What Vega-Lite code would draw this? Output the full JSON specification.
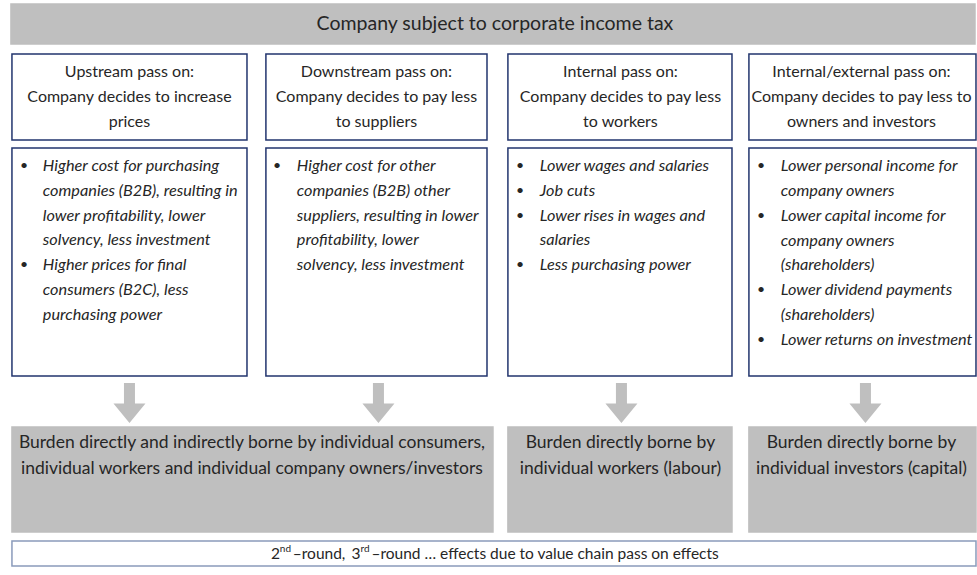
{
  "$schema": "https://vega.github.io/schema/vega-lite/v6.json",
  "width": 977,
  "height": 575,
  "autosize": {"type": "fit", "contains": "padding"},
  "padding": 0,
  "background": "#ffffff",
  "config": {"view": {"stroke": null}, "text": {"font": "Lato", "color": "#262626", "baseline": "middle"}},
  "datasets": {
    "boxes": [
      {"box": "banner", "kind": "gray", "x": 11, "x2": 979, "y": 4, "y2": 44},
      {"box": "h1", "kind": "outline", "x": 12, "x2": 248, "y": 54, "y2": 140},
      {"box": "h2", "kind": "outline", "x": 267, "x2": 489, "y": 54, "y2": 140},
      {"box": "h3", "kind": "outline", "x": 510, "x2": 735, "y": 54, "y2": 140},
      {"box": "h4", "kind": "outline", "x": 752, "x2": 980, "y": 54, "y2": 140},
      {"box": "b1", "kind": "outline", "x": 12, "x2": 248, "y": 148, "y2": 376},
      {"box": "b2", "kind": "outline", "x": 267, "x2": 489, "y": 148, "y2": 376},
      {"box": "b3", "kind": "outline", "x": 510, "x2": 735, "y": 148, "y2": 376},
      {"box": "b4", "kind": "outline", "x": 752, "x2": 980, "y": 148, "y2": 376},
      {"box": "g1", "kind": "gray", "x": 12, "x2": 495, "y": 427, "y2": 532},
      {"box": "g2", "kind": "gray", "x": 510, "x2": 735, "y": 427, "y2": 532},
      {"box": "g3", "kind": "gray", "x": 752, "x2": 980, "y": 427, "y2": 532},
      {"box": "foot", "kind": "light", "x": 12, "x2": 980, "y": 541, "y2": 566}
    ],
    "arrows": [
      {"col": 1, "x": 130, "y": 403},
      {"col": 2, "x": 380, "y": 403},
      {"col": 3, "x": 624, "y": 403},
      {"col": 4, "x": 869, "y": 403}
    ],
    "texts": [
      {"kind": "title", "text": "Company subject to corporate income tax", "x": 497, "y": 24},
      {"kind": "header", "text": "Upstream pass on:", "x": 130, "y": 72},
      {"kind": "header", "text": "Company decides to increase", "x": 130, "y": 97},
      {"kind": "header", "text": "prices", "x": 130, "y": 122},
      {"kind": "header", "text": "Downstream pass on:", "x": 378, "y": 72},
      {"kind": "header", "text": "Company decides to pay less", "x": 378, "y": 97},
      {"kind": "header", "text": "to suppliers", "x": 378, "y": 122},
      {"kind": "header", "text": "Internal pass on:", "x": 623, "y": 72},
      {"kind": "header", "text": "Company decides to pay less", "x": 623, "y": 97},
      {"kind": "header", "text": "to workers", "x": 623, "y": 122},
      {"kind": "header", "text": "Internal/external pass on:", "x": 865, "y": 72},
      {"kind": "header", "text": "Company decides to pay less to", "x": 865, "y": 97},
      {"kind": "header", "text": "owners and investors", "x": 865, "y": 122},
      {"kind": "bullet", "text": "•", "x": 20, "y": 166},
      {"kind": "body", "text": "Higher cost for purchasing", "x": 43, "y": 166},
      {"kind": "body", "text": "companies (B2B), resulting in", "x": 43, "y": 191},
      {"kind": "body", "text": "lower profitability, lower", "x": 43, "y": 216},
      {"kind": "body", "text": "solvency, less investment", "x": 43, "y": 240},
      {"kind": "bullet", "text": "•", "x": 20, "y": 265},
      {"kind": "body", "text": "Higher prices for final", "x": 43, "y": 265},
      {"kind": "body", "text": "consumers (B2C), less", "x": 43, "y": 290},
      {"kind": "body", "text": "purchasing power", "x": 43, "y": 315},
      {"kind": "bullet", "text": "•", "x": 274, "y": 166},
      {"kind": "body", "text": "Higher cost for other", "x": 298, "y": 166},
      {"kind": "body", "text": "companies (B2B) other", "x": 298, "y": 191},
      {"kind": "body", "text": "suppliers, resulting in lower", "x": 298, "y": 216},
      {"kind": "body", "text": "profitability, lower", "x": 298, "y": 240},
      {"kind": "body", "text": "solvency, less investment", "x": 298, "y": 265},
      {"kind": "bullet", "text": "•", "x": 518, "y": 166},
      {"kind": "body", "text": "Lower wages and salaries", "x": 542, "y": 166},
      {"kind": "bullet", "text": "•", "x": 518, "y": 191},
      {"kind": "body", "text": "Job cuts", "x": 542, "y": 191},
      {"kind": "bullet", "text": "•", "x": 518, "y": 216},
      {"kind": "body", "text": "Lower rises in wages and", "x": 542, "y": 216},
      {"kind": "body", "text": "salaries", "x": 542, "y": 240},
      {"kind": "bullet", "text": "•", "x": 518, "y": 265},
      {"kind": "body", "text": "Less purchasing power", "x": 542, "y": 265},
      {"kind": "bullet", "text": "•", "x": 760, "y": 166},
      {"kind": "body", "text": "Lower personal income for", "x": 784, "y": 166},
      {"kind": "body", "text": "company owners", "x": 784, "y": 191},
      {"kind": "bullet", "text": "•", "x": 760, "y": 216},
      {"kind": "body", "text": "Lower capital income for", "x": 784, "y": 216},
      {"kind": "body", "text": "company owners", "x": 784, "y": 241},
      {"kind": "body", "text": "(shareholders)", "x": 784, "y": 265},
      {"kind": "bullet", "text": "•", "x": 760, "y": 290},
      {"kind": "body", "text": "Lower dividend payments", "x": 784, "y": 290},
      {"kind": "body", "text": "(shareholders)", "x": 784, "y": 315},
      {"kind": "bullet", "text": "•", "x": 760, "y": 340},
      {"kind": "body", "text": "Lower returns on investment", "x": 784, "y": 340},
      {"kind": "burden", "text": "Burden directly and indirectly borne by individual consumers,", "x": 253, "y": 443},
      {"kind": "burden", "text": "individual workers and individual company owners/investors", "x": 253, "y": 469},
      {"kind": "burden", "text": "Burden directly borne by", "x": 623, "y": 443},
      {"kind": "burden", "text": "individual workers (labour)", "x": 623, "y": 469},
      {"kind": "burden", "text": "Burden directly borne by", "x": 865, "y": 443},
      {"kind": "burden", "text": "individual investors (capital)", "x": 865, "y": 469},
      {"kind": "foot", "text": "2", "x": 272, "y": 554},
      {"kind": "sup", "text": "nd", "x": 281, "y": 549},
      {"kind": "foot", "text": "–round,", "x": 294, "y": 554},
      {"kind": "foot", "text": "3", "x": 353, "y": 554},
      {"kind": "sup", "text": "rd", "x": 362, "y": 549},
      {"kind": "foot", "text": "–round … effects due to value chain pass on effects", "x": 373, "y": 554}
    ]
  },
  "layer": [
    {
      "data": {"name": "boxes"},
      "mark": {"type": "rect", "strokeWidth": 1.5},
      "encoding": {
        "x": {"field": "x", "type": "quantitative", "scale": {"domain": [0, 977], "nice": false, "zero": false}, "axis": null},
        "x2": {"field": "x2"},
        "y": {"field": "y", "type": "quantitative", "scale": {"domain": [0, 575], "nice": false, "zero": false, "reverse": true}, "axis": null},
        "y2": {"field": "y2"},
        "fill": {"field": "kind", "type": "nominal", "scale": {"domain": ["gray", "outline", "light"], "range": ["#bfbfbf", "#ffffff", "#ffffff"]}, "legend": null},
        "stroke": {"field": "kind", "type": "nominal", "scale": {"domain": ["gray", "outline", "light"], "range": ["#bfbfbf", "#22356e", "#8a9bbb"]}, "legend": null}
      }
    },
    {
      "data": {"name": "arrows"},
      "mark": {"type": "point", "shape": "M-0.275,-1L0.275,-1L0.275,0.03L0.8,0.03L0,1L-0.8,0.03L-0.275,0.03Z", "size": 1600, "filled": true, "fill": "#bfbfbf", "opacity": 1, "strokeWidth": 0},
      "encoding": {
        "x": {"field": "x", "type": "quantitative", "scale": {"domain": [0, 977], "nice": false, "zero": false}, "axis": null},
        "y": {"field": "y", "type": "quantitative", "scale": {"domain": [0, 575], "nice": false, "zero": false, "reverse": true}, "axis": null}
      }
    },
    {
      "data": {"name": "texts"},
      "transform": [{"filter": "datum.kind === 'title'"}],
      "mark": {"type": "text", "fontSize": 19.5, "align": "center"},
      "encoding": {
        "x": {"field": "x", "type": "quantitative", "scale": {"domain": [0, 977], "nice": false, "zero": false}, "axis": null},
        "y": {"field": "y", "type": "quantitative", "scale": {"domain": [0, 575], "nice": false, "zero": false, "reverse": true}, "axis": null},
        "text": {"field": "text"}
      }
    },
    {
      "data": {"name": "texts"},
      "transform": [{"filter": "datum.kind === 'header'"}],
      "mark": {"type": "text", "fontSize": 16, "align": "center"},
      "encoding": {
        "x": {"field": "x", "type": "quantitative", "scale": {"domain": [0, 977], "nice": false, "zero": false}, "axis": null},
        "y": {"field": "y", "type": "quantitative", "scale": {"domain": [0, 575], "nice": false, "zero": false, "reverse": true}, "axis": null},
        "text": {"field": "text"}
      }
    },
    {
      "data": {"name": "texts"},
      "transform": [{"filter": "datum.kind === 'body'"}],
      "mark": {"type": "text", "fontSize": 16.3, "fontStyle": "italic", "align": "left"},
      "encoding": {
        "x": {"field": "x", "type": "quantitative", "scale": {"domain": [0, 977], "nice": false, "zero": false}, "axis": null},
        "y": {"field": "y", "type": "quantitative", "scale": {"domain": [0, 575], "nice": false, "zero": false, "reverse": true}, "axis": null},
        "text": {"field": "text"}
      }
    },
    {
      "data": {"name": "texts"},
      "transform": [{"filter": "datum.kind === 'bullet'"}],
      "mark": {"type": "text", "fontSize": 14, "align": "left"},
      "encoding": {
        "x": {"field": "x", "type": "quantitative", "scale": {"domain": [0, 977], "nice": false, "zero": false}, "axis": null},
        "y": {"field": "y", "type": "quantitative", "scale": {"domain": [0, 575], "nice": false, "zero": false, "reverse": true}, "axis": null},
        "text": {"field": "text"}
      }
    },
    {
      "data": {"name": "texts"},
      "transform": [{"filter": "datum.kind === 'burden'"}],
      "mark": {"type": "text", "fontSize": 17.5, "align": "center"},
      "encoding": {
        "x": {"field": "x", "type": "quantitative", "scale": {"domain": [0, 977], "nice": false, "zero": false}, "axis": null},
        "y": {"field": "y", "type": "quantitative", "scale": {"domain": [0, 575], "nice": false, "zero": false, "reverse": true}, "axis": null},
        "text": {"field": "text"}
      }
    },
    {
      "data": {"name": "texts"},
      "transform": [{"filter": "datum.kind === 'foot'"}],
      "mark": {"type": "text", "fontSize": 15.5, "align": "left"},
      "encoding": {
        "x": {"field": "x", "type": "quantitative", "scale": {"domain": [0, 977], "nice": false, "zero": false}, "axis": null},
        "y": {"field": "y", "type": "quantitative", "scale": {"domain": [0, 575], "nice": false, "zero": false, "reverse": true}, "axis": null},
        "text": {"field": "text"}
      }
    },
    {
      "data": {"name": "texts"},
      "transform": [{"filter": "datum.kind === 'sup'"}],
      "mark": {"type": "text", "fontSize": 10, "align": "left"},
      "encoding": {
        "x": {"field": "x", "type": "quantitative", "scale": {"domain": [0, 977], "nice": false, "zero": false}, "axis": null},
        "y": {"field": "y", "type": "quantitative", "scale": {"domain": [0, 575], "nice": false, "zero": false, "reverse": true}, "axis": null},
        "text": {"field": "text"}
      }
    }
  ]
}
